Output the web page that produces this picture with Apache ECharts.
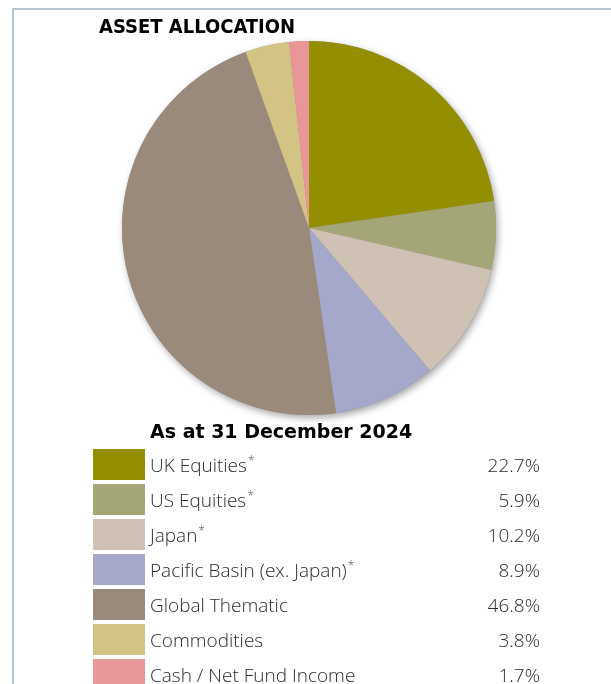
<!DOCTYPE html>
<html>
<head>
<meta charset="utf-8">
<style>
  html, body { margin: 0; padding: 0; background: #ffffff; }
  #chart { width: 611px; height: 684px; }
</style>
<script src="https://cdn.jsdelivr.net/npm/echarts@6/dist/echarts.min.js"></script>
</head>
<body>
<div id="chart"></div>
<script>
// Portfolio asset allocation, percentages of the fund
const categories = [
  'UK Equities',
  'US Equities',
  'Japan',
  'Pacific Basin (ex. Japan)',
  'Global Thematic',
  'Commodities',
  'Cash / Net Fund Income'
];
const weights = [22.7, 5.9, 10.2, 8.9, 46.8, 3.8, 1.7];
// categories footnoted with an asterisk
const footnoted = [true, true, true, true, false, false, false];

const palette = ['#948f00', '#a5a678', '#cfc2b5', '#a5a8cb', '#9a8a7b', '#d3c385', '#e89697'];

const LABEL_FONT = '"Open Sans", sans-serif';
const ROW_TEXT_WIDTH = 390;   // from the start of the name to the right edge of the value

const chart = echarts.init(document.getElementById('chart'), null, { renderer: 'canvas' });

// measure text so the percentage column can be right-aligned
const measureCtx = document.createElement('canvas').getContext('2d');
function textWidth(str, size, weight) {
  measureCtx.font = weight + ' ' + size + 'px ' + LABEL_FONT;
  return measureCtx.measureText(str).width;
}

const sliceData = categories.map((name, i) => ({
  name: name,
  value: weights[i],
  itemStyle: { color: palette[i] }
}));

const total = weights.reduce((a, b) => a + b, 0);

const baseText = { fontFamily: LABEL_FONT, fontWeight: 300, fontSize: 19, color: '#2b2b2b', lineHeight: 26, padding: [5, 0, 0, 0] };

const option = {
  animation: false,
  backgroundColor: '#ffffff',
  title: [
    {
      text: 'ASSET ALLOCATION',
      left: 99,
      top: 18,
      padding: 0,
      textStyle: {
        fontFamily: '"DejaVu Sans Condensed", "DejaVu Sans", sans-serif',
        fontWeight: 'bold',
        fontSize: 20,
        color: '#000000'
      }
    },
    {
      text: 'As at 31 December 2024',
      left: 150,
      top: 424,
      padding: 0,
      textStyle: {
        fontFamily: '"DejaVu Sans", sans-serif',
        fontWeight: 'bold',
        fontSize: 19,
        color: '#000000'
      }
    }
  ],
  legend: {
    orient: 'vertical',
    left: 93,
    top: 449,
    height: 300,
    padding: 0,
    itemWidth: 52,
    itemHeight: 31,
    itemGap: 4,
    icon: 'rect',
    selectedMode: false,
    data: categories,
    formatter: function (name) {
      const i = categories.indexOf(name);
      const pct = weights[i].toFixed(1) + '%';
      const head = '{nm|' + name + '}' + (footnoted[i] ? '{sup|*}' : '');
      return head + '{v' + i + '|' + pct + '}';
    },
    textStyle: {
      fontFamily: LABEL_FONT,
      fontWeight: 300,
      fontSize: 19,
      color: '#2b2b2b',
      rich: {
        nm: baseText,
        sup: { fontFamily: LABEL_FONT, fontWeight: 300, fontSize: 12, color: '#555555', verticalAlign: 'top', lineHeight: 26, padding: [4, 0, 0, 1] }
      }
    }
  },
  graphic: [
    {
      type: 'polyline',
      silent: true,
      shape: { points: [[13, 684], [13, 9], [611, 9]] },
      style: { stroke: '#b5c6d0', lineWidth: 2, fill: null }
    }
  ],
  series: [
    {
      // backing disc that carries the drop shadow under the slices
      type: 'pie',
      silent: true,
      z: 1,
      center: [309, 228],
      radius: 187,
      label: { show: false },
      labelLine: { show: false },
      data: [{ name: '', value: total }],
      itemStyle: {
        color: '#9a8a7b',
        shadowColor: 'rgba(0,0,0,0.35)',
        shadowBlur: 7,
        shadowOffsetX: 2,
        shadowOffsetY: 3
      },
      emphasis: { disabled: true }
    },
    {
      type: 'pie',
      z: 2,
      center: [309, 228],
      radius: 187,
      startAngle: 90,
      clockwise: true,
      label: { show: false },
      labelLine: { show: false },
      itemStyle: { borderWidth: 0 },
      emphasis: { disabled: true },
      data: sliceData
    }
  ]
};

// one value style per row, wide enough to push each percentage to the same right edge
categories.forEach((name, i) => {
  let used = textWidth(name, 19, 300);
  if (footnoted[i]) used += textWidth('*', 12, 300) + 1;
  option.legend.textStyle.rich['v' + i] = Object.assign({}, baseText, {
    width: Math.max(10, ROW_TEXT_WIDTH - used),
    align: 'right'
  });
});

chart.setOption(option);
</script>
</body>
</html>
